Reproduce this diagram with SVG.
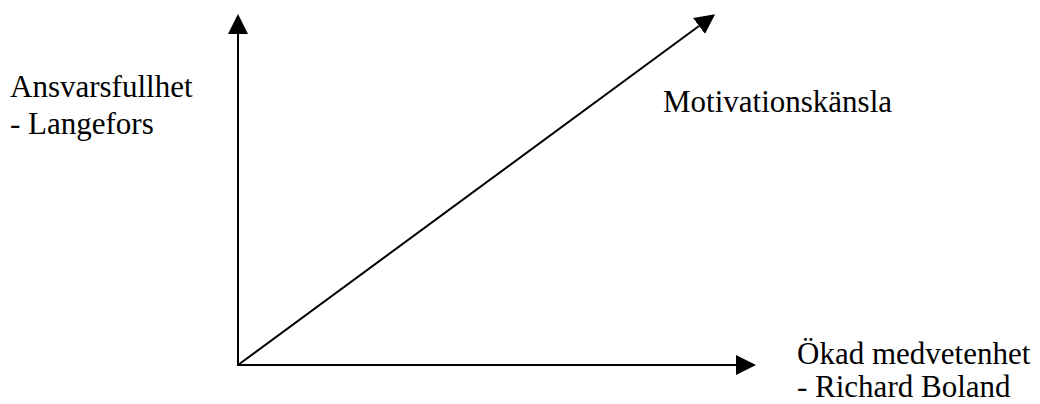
<svg xmlns="http://www.w3.org/2000/svg" width="1040" height="404" viewBox="0 0 1040 404">
<style>
text{font-family:'Liberation Serif','Times New Roman',serif;font-size:31px;fill:#000}
.l{stroke:#000;stroke-width:2;fill:none}
</style>
<defs>
<marker id="ah" viewBox="0 0 20 20" refX="0" refY="10" markerWidth="20" markerHeight="20" markerUnits="userSpaceOnUse" orient="auto">
<path d="M0,0 L20,10 L0,20 Z" fill="#000"/>
</marker>
</defs>
<rect width="1040" height="404" fill="#fff"/>
<g id="connectors">
<line class="l" x1="238" y1="365" x2="238" y2="34" marker-end="url(#ah)"/>
<line class="l" x1="237" y1="365" x2="736" y2="365" marker-end="url(#ah)"/>
<line class="l" x1="238" y1="365" x2="699" y2="26" marker-end="url(#ah)"/>
</g>
<g id="y-label"><text x="10" y="97">Ansvarsfullhet</text><text x="10" y="134">- Langefors</text></g>
<g id="diag-label"><text x="663" y="112">Motivationskänsla</text></g>
<g id="x-label"><text x="797" y="364">Ökad medvetenhet</text><text x="797" y="397">- Richard Boland</text></g>
</svg>
